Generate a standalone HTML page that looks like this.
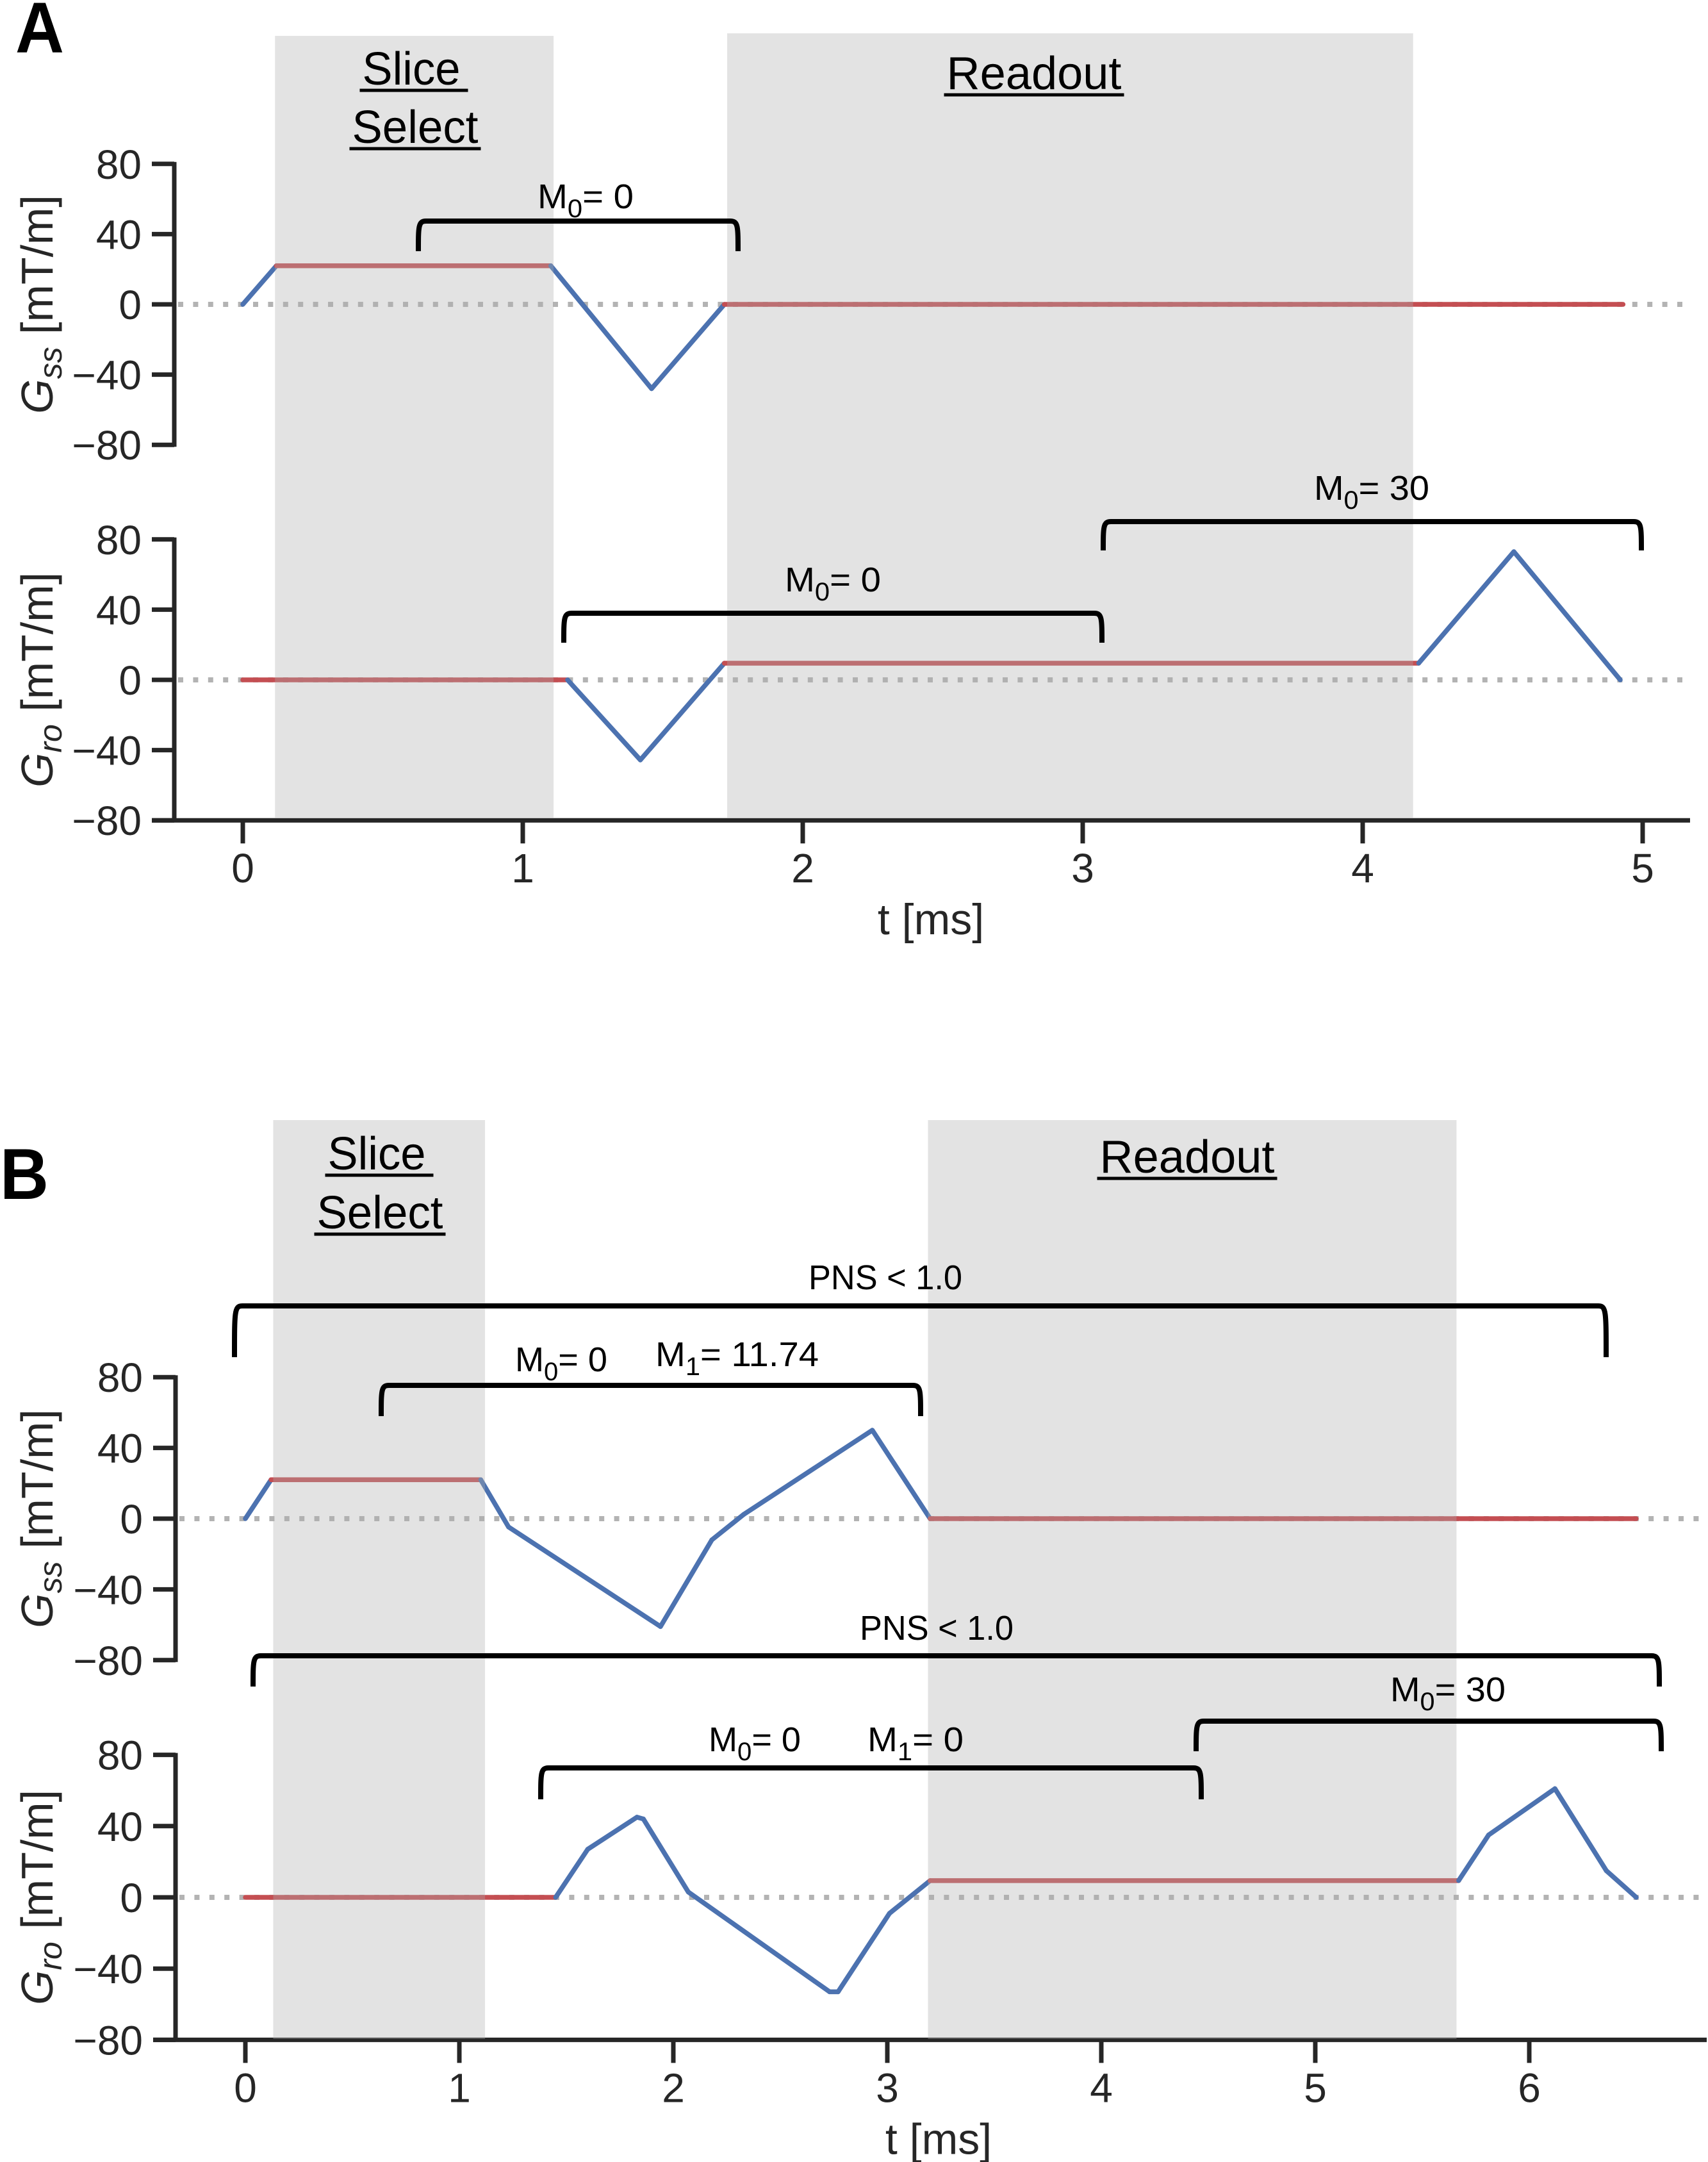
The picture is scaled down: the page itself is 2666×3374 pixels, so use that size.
<!DOCTYPE html>
<html><head><meta charset="utf-8"><style>
html,body{margin:0;padding:0;background:#fff}
svg{display:block}
text{font-family:"Liberation Sans",sans-serif}
</style></head><body>
<svg id="fig" width="2666" height="3374" viewBox="0 0 2666 3374" xmlns="http://www.w3.org/2000/svg"></svg>
<script>
// ---- Panel A data ----
const aSsT=[0,0.12,1.10,1.46,1.72,4.93];
const aSsV=[0,22,22,-48,0,0];
const aSsRed=[false,true,false,false,true];
const aRoT=[0,1.16,1.42,1.72,4.20,4.54,4.92];
const aRoV=[0,0,-45.6,9.5,9.5,73,0];
const aRoRed=[true,false,false,true,false,false];
const aXTicks=[0,1,2,3,4,5];
const yTicks=[80,40,0,-40,-80];
// ---- Panel B data ----
const bSsT=[0,0.12,1.10,1.23,1.94,2.18,2.33,2.93,3.20,6.50];
const bSsV=[0,22,22,-4.7,-61,-12,2.5,50,0,0];
const bSsRed=[false,true,false,false,false,false,false,false,true];
const bRoT=[0,1.45,1.60,1.83,1.86,2.07,2.73,2.77,3.01,3.20,5.67,5.81,6.12,6.36,6.50];
const bRoV=[0,0,27,45,44,3,-53,-53,-9,9.4,9.4,35,61,15,0];
const bRoRed=[true,false,false,false,false,false,false,false,false,true,false,false,false,false];
const bXTicks=[0,1,2,3,4,5,6];

const NS="http://www.w3.org/2000/svg";
const svg=document.getElementById('fig');
function mk(tag,attrs,parent){const e=document.createElementNS(NS,tag);for(const k in attrs)e.setAttribute(k,attrs[k]);(parent||svg).appendChild(e);return e;}
const AX="#262626",BLUE="#4c72b0",RED="#c44e52";

function panel(P){
  const sx=t=>P.x0+P.pxms*t;
  const syU=v=>P.zU-P.pu*v, syL=v=>P.zL-P.pl*v;
  [P.zU,P.zL].forEach((z,i)=>{
    const l=mk('line',{x1:P.ax+6,y1:z,x2:P.xEnd,y2:z,stroke:"#b3b3b3","stroke-width":8,"stroke-dasharray":"8 15.4"});
    
    
  });
  function series(T,V,R,sy,name){
    for(let i=0;i<T.length-1;i++){
      const l=mk('line',{x1:sx(T[i]),y1:sy(V[i]),x2:sx(T[i+1]),y2:sy(V[i+1]),stroke:R[i]?RED:BLUE,"stroke-width":7.5,"stroke-linecap":"round"});
      
      
    }
  }
  series(P.ssT,P.ssV,P.ssRed,syU,'gss-waveform');
  series(P.roT,P.roV,P.roRed,syL,'gro-waveform');
  [[P.zU,P.pu,'ss'],[P.zL,P.pl,'ro']].forEach(([z,p,n])=>{
    const top=z-p*80,bot=z+p*80;
    const a=mk('line',{x1:P.ax,y1:top-3,x2:P.ax,y2:bot+3,stroke:AX,"stroke-width":7});
    
    
    yTicks.forEach(v=>{
      const y=z-p*v;
      const t=mk('line',{x1:P.ax-35,y1:y,x2:P.ax,y2:y,stroke:AX,"stroke-width":7});
      
      
      const lb=mk('text',{x:P.ax-51,y:y+23,"text-anchor":"end","font-size":64,fill:AX});
      lb.textContent=(v<0?'\u2212':'')+Math.abs(v);
      
      
    });
    const yl=mk('text',{x:0,y:0,transform:`translate(${P.ylx},${z}) rotate(-90)`,"text-anchor":"middle","font-size":70,fill:AX});
    const g=mk('tspan',{"font-style":"italic"},yl);g.textContent='G';
    const s=mk('tspan',{"font-style":"italic","font-size":50,dy:14},yl);s.textContent=n;
    const r=mk('tspan',{dy:-14},yl);r.textContent=' [mT/m]';
    
    
  });
  const xb=P.zL+P.pl*80;
  const xa=mk('line',{x1:P.ax-35,y1:xb,x2:P.xAxEnd,y2:xb,stroke:AX,"stroke-width":7});
  
  
  P.ticks.forEach(t=>{
    const tk=mk('line',{x1:sx(t),y1:xb,x2:sx(t),y2:xb+36,stroke:AX,"stroke-width":7});
    
    
    const lb=mk('text',{x:sx(t),y:xb+97,"text-anchor":"middle","font-size":64,fill:AX});
    lb.textContent=t;
    
    
  });
  const xt=mk('text',{x:P.xtx,y:xb+178,"text-anchor":"middle","font-size":68,fill:AX});
  xt.textContent='t [ms]';
  
  
  P.bands.forEach(([t0,t1,top,bot,name])=>{
    const b=mk('rect',{x:sx(t0),y:top,width:sx(t1)-sx(t0),height:bot-top,fill:"rgb(174,174,174)","fill-opacity":0.35});
    
    
  });
  P.titles.forEach(([txt,cx,by,w,name])=>{
    const t=mk('text',{x:cx,y:by,"text-anchor":"middle","font-size":72,fill:"#000",textLength:w,lengthAdjust:"spacingAndGlyphs"});
    t.textContent=txt;
    
    
    const u=mk('line',{x1:cx-w/2-4,y1:by+9,x2:cx+w/2+(txt==='Slice'?12:4),y2:by+9,stroke:"#000","stroke-width":5});
    
    
  });
  P.brackets.forEach(([x1,x2,top,bot,name])=>{
    const d=`M${x1},${bot} C${x1},${top+8} ${x1},${top} ${x1+12},${top} L${x2-12},${top} C${x2},${top} ${x2},${top+8} ${x2},${bot}`;
    const p=mk('path',{d:d,fill:"none",stroke:"#000","stroke-width":8});
    
    
  });
  P.labels.forEach(([m,sub,rest,x,y,anchor,w,name])=>{
    const t=mk('text',{x:x,y:y,"text-anchor":anchor,"font-size":54,fill:"#000",textLength:w,lengthAdjust:"spacingAndGlyphs"});
    if(sub!==null){
      const a=mk('tspan',{},t);a.textContent=m;
      const b=mk('tspan',{dy:14,"font-size":40},t);b.textContent=sub;
      const c=mk('tspan',{dy:-14},t);c.textContent=rest;
    } else t.textContent=m;
    
    
  });
  const L=mk('text',{x:P.letter[1],y:P.letter[2],"font-size":112,"font-weight":"bold",fill:"#000",textLength:76,lengthAdjust:"spacingAndGlyphs"});
  L.textContent=P.letter[0];
  
  
}

panel({x0:379,pxms:437,zU:475,pu:2.74,zL:1061,pl:2.74,ax:272,xEnd:2630,xAxEnd:2638,ylx:82,xtx:1453,
  ssT:aSsT,ssV:aSsV,ssRed:aSsRed,roT:aRoT,roV:aRoV,roRed:aRoRed,ticks:aXTicks,
  bands:[[0.115,1.11,56,1276,'slice-select-band'],[1.73,4.18,52,1276,'readout-band']],
  titles:[['Slice',642,132,153,'slice-title'],['Select',648,223,197,'select-title'],['Readout',1614,139,273,'readout-title']],
  brackets:[[653,1152,345,392,'bracket-ss-m0'],[880,1720,957,1003,'bracket-ro-m0'],[1722,2562,814,859,'bracket-ro-m0-30']],
  labels:[['M','0','= 0',914,325,'middle',150,'label-ss-m0'],['M','0','= 0',1300,923,'middle',150,'label-ro-m0'],['M','0','= 30',2141,780,'middle',180,'label-ro-m0-30']],
  letter:['A',24,82]});

panel({x0:383,pxms:334,zU:2370,pu:2.76,zL:2961,pl:2.78,ax:274,xEnd:2664,xAxEnd:2664,ylx:82,xtx:1465,
  ssT:bSsT,ssV:bSsV,ssRed:bSsRed,roT:bRoT,roV:bRoV,roRed:bRoRed,ticks:bXTicks,
  bands:[[0.13,1.12,1748,3182,'slice-select-band'],[3.19,5.66,1748,3182,'readout-band']],
  titles:[['Slice',588,1825,153,'slice-title'],['Select',593,1917,197,'select-title'],['Readout',1853,1830,273,'readout-title']],
  brackets:[[366,2507,2038,2118,'bracket-ss-pns'],[595,1437,2162,2210,'bracket-ss-m0-m1'],[395,2590,2584,2632,'bracket-ro-pns'],[844,1875,2759,2808,'bracket-ro-m0-m1'],[1867,2593,2686,2733,'bracket-ro-m0-30']],
  labels:[['PNS < 1.0',null,'',1382,2012,'middle',240,'label-ss-pns'],['M','0','= 0',876,2140,'middle',144,'label-ss-m0'],['M','1','= 11.74',1023,2132,'start',255,'label-ss-m1'],
          ['PNS < 1.0',null,'',1342,2559,'start',240,'label-ro-pns'],['M','0','= 0',1178,2733,'middle',144,'label-ro-m0'],['M','1','= 0',1354,2733,'start',150,'label-ro-m1'],['M','0','= 30',2260,2655,'middle',180,'label-ro-m0-30']],
  letter:['B',0,1871]});
</script>
</body></html>
